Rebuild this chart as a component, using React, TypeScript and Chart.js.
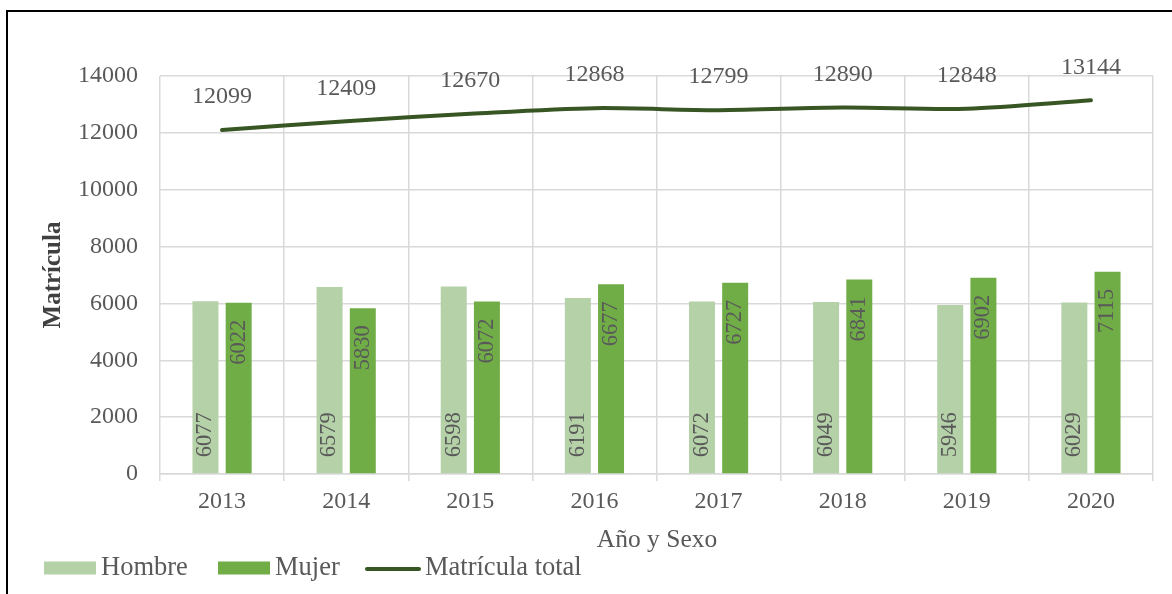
import React, { useEffect, useRef } from "react";
import { Chart, registerables } from "chart.js";

Chart.register(...registerables);

const years = ["2013", "2014", "2015", "2016", "2017", "2018", "2019", "2020"];
const hombre = [6077, 6579, 6598, 6191, 6072, 6049, 5946, 6029];
const mujer = [6022, 5830, 6072, 6677, 6727, 6841, 6902, 7115];
const total = [12099, 12409, 12670, 12868, 12799, 12890, 12848, 13144];
const yTicks = [0, 2000, 4000, 6000, 8000, 10000, 12000, 14000];

const FONT = "'Liberation Serif', serif";
const TEXT = "#595959";
const C_H = "#B5D1A8";
const C_M = "#70AD47";
const C_T = "#375623";

const customPlugin = {
  id: "custom",
  afterDatasetsDraw(chart: any) {
    const ctx = chart.ctx;
    ctx.save();
    ctx.fillStyle = TEXT;
    // bar labels
    ctx.font = `22.5px ${FONT}`;
    [0, 1].forEach((di) => {
      const meta = chart.getDatasetMeta(di);
      meta.data.forEach((el: any, i: number) => {
        const v = chart.data.datasets[di].data[i];
        ctx.save();
        ctx.textBaseline = "middle";
        if (di === 0) {
          ctx.translate(el.x, el.base - 16);
          ctx.rotate(-Math.PI / 2);
          ctx.textAlign = "left";
        } else {
          ctx.translate(el.x, el.y + 17);
          ctx.rotate(-Math.PI / 2);
          ctx.textAlign = "right";
        }
        ctx.fillText(String(v), 0, 0);
        ctx.restore();
      });
    });
    // line labels
    ctx.font = `24px ${FONT}`;
    ctx.textAlign = "center";
    ctx.textBaseline = "middle";
    const lm = chart.getDatasetMeta(2);
    lm.data.forEach((el: any, i: number) => {
      ctx.fillText(String(chart.data.datasets[2].data[i]), el.x, el.y - 33);
    });
    ctx.restore();
  },
  afterDraw(chart: any) {
    const ctx = chart.ctx;
    ctx.save();
    // border
    ctx.fillStyle = "#000";
    ctx.fillRect(6, 10, 1166, 2);
    ctx.fillRect(6, 10, 2, 584);
    // axis titles
    ctx.fillStyle = TEXT;
    ctx.font = `25.5px ${FONT}`;
    ctx.textAlign = "center";
    ctx.textBaseline = "middle";
    ctx.fillText("Año y Sexo", 657, 540);
    ctx.save();
    ctx.translate(54, 275);
    ctx.rotate(-Math.PI / 2);
    ctx.fillStyle = "#404040";
    ctx.font = `bold 25px ${FONT}`;
    ctx.fillText("Matrícula", 0, 0);
    ctx.restore();
    // legend
    const ly = 568;
    ctx.textAlign = "left";
    ctx.fillStyle = C_H;
    ctx.fillRect(44, ly - 6.5, 52, 13);
    ctx.fillStyle = C_M;
    ctx.fillRect(218, ly - 6.5, 52, 13);
    ctx.strokeStyle = C_T;
    ctx.lineWidth = 4;
    ctx.lineCap = "round";
    ctx.beginPath();
    ctx.moveTo(367, ly + 1);
    ctx.lineTo(419, ly + 1);
    ctx.stroke();
    ctx.fillStyle = TEXT;
    ctx.font = `26.5px ${FONT}`;
    ctx.fillText("Hombre", 101, ly);
    ctx.fillText("Mujer", 275, ly);
    ctx.fillText("Matrícula total", 425, ly);
    ctx.restore();
  },
};

export default function App() {
  const ref = useRef<HTMLCanvasElement>(null);
  useEffect(() => {
    if (!ref.current) return;
    const chart = new Chart(ref.current, {
      type: "bar",
      data: {
        labels: years,
        datasets: [
          {
            type: "bar",
            label: "Hombre",
            data: hombre,
            backgroundColor: C_H,
            categoryPercentage: 0.535,
            barPercentage: 0.783,
            order: 2,
          },
          {
            type: "bar",
            label: "Mujer",
            data: mujer,
            backgroundColor: C_M,
            categoryPercentage: 0.535,
            barPercentage: 0.783,
            order: 2,
          },
          {
            type: "line",
            label: "Matrícula total",
            data: total,
            borderColor: C_T,
            backgroundColor: C_T,
            borderWidth: 4,
            pointRadius: 0,
            tension: 0.3,
            borderCapStyle: "round",
            order: 1,
          } as any,
        ],
      },
      options: {
        animation: false,
        responsive: false,
        maintainAspectRatio: false,
        layout: { padding: { left: 0, right: 19, top: 76, bottom: 0 } },
        plugins: {
          legend: { display: false },
          tooltip: { enabled: false },
        },
        scales: {
          x: {
            offset: true,
            grid: {
              offset: true,
              color: "#D9D9D9",
              lineWidth: 1.5,
              tickLength: 7,
              drawTicks: true,
            },
            border: { color: "#D9D9D9", width: 1.5 },
            ticks: {
              color: TEXT,
              font: { family: FONT, size: 24 },
              padding: 6,
              maxRotation: 0,
            },
            afterFit: (s: any) => {
              s.height = 120;
            },
          },
          y: {
            min: 0,
            max: 14000,
            afterBuildTicks: (s: any) => {
              s.ticks = yTicks.map((v) => ({ value: v }));
            },
            grid: { color: "#D9D9D9", lineWidth: 1.5, drawTicks: false },
            border: { display: false },
            ticks: {
              color: TEXT,
              font: { family: FONT, size: 24 },
              padding: 22,
              callback: (v: any) => String(v),
            },
            afterFit: (s: any) => {
              s.width = 160;
            },
          },
        },
      },
      plugins: [customPlugin],
    });
    return () => chart.destroy();
  }, []);
  return (
    <canvas
      ref={ref}
      width={1172}
      height={594}
      style={{ position: "fixed", left: 0, top: 0, width: 1172, height: 594, background: "#fff" }}
    />
  );
}
